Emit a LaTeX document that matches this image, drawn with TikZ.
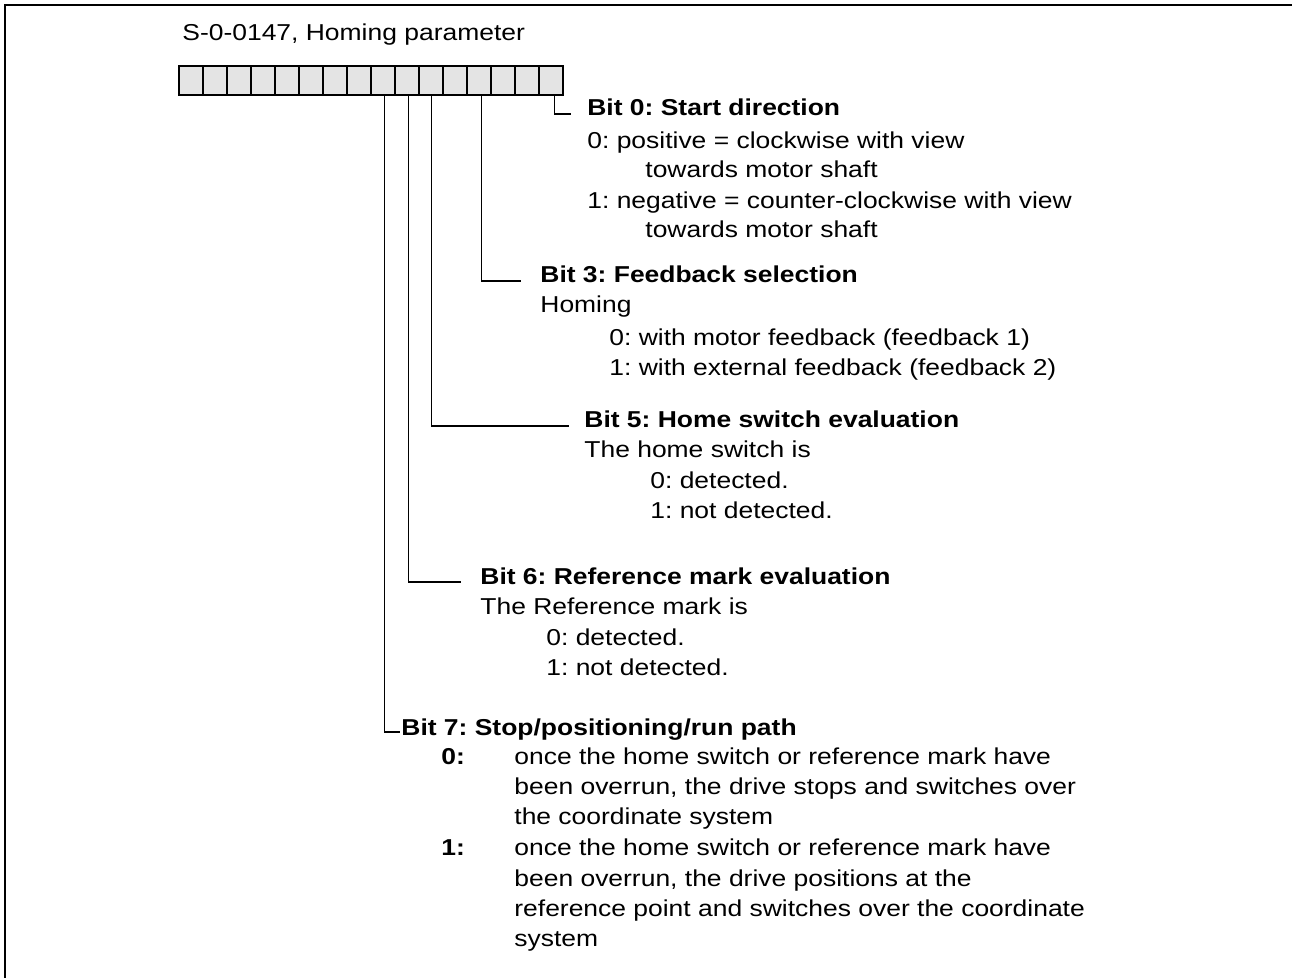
\documentclass[tikz,border=0pt]{standalone}
\usepackage{fontspec}
\setmainfont{Liberation Sans}[FakeStretch=1.15]
\frenchspacing
\begin{document}
\begin{tikzpicture}[x=0.5pt,y=-0.5pt,
  frame/.style={line width=1.35pt},
  bitbox/.style={draw,line width=0.8pt,fill=boxgray,minimum width=12pt,minimum height=14.5pt,inner sep=0pt,outer sep=0pt,anchor=north west},
  lead/.style={line width=0.75pt},
  txt/.style={anchor=base west,inner sep=0pt,font=\fontsize{11.5}{15}\selectfont},
  hd/.style={txt,font=\fontsize{11.5}{15}\selectfont\bfseries}]
\definecolor{boxgray}{HTML}{E4E4E4}
\useasboundingbox (0,0) rectangle (1292,978);
% open frame: top and left edges only
\draw[frame] (1292,5) -- (5,5) -- (5,978);

% title
\node[txt] (title) at (182,41) {S-0-0147, Homing parameter};

% sixteen bit cells, bit 15 on the left, bit 0 on the right
\foreach \i in {0,...,15}{
  \pgfmathtruncatemacro{\b}{15-\i}
  \node[bitbox] (b\b) at ({179+24*\i},66) {};
}

% leader lines
\coordinate (e0) at (571,114);
\coordinate (e3) at (521,281);
\coordinate (e5) at (569,426);
\coordinate (e6) at (461,582);
\coordinate (e7) at (400,732);
\draw[lead] ([xshift=1.75pt]b0.south) |- (e0);
\draw[lead] ([xshift=1.25pt]b3.south) |- (e3);
\draw[lead] ([xshift=0.35pt]b5.south) |- (e5);
\draw[lead] ([xshift=0.75pt]b6.south) |- (e6);
\draw[lead] ([xshift=0.75pt]b7.south) |- (e7);

% bit 0
\node[hd]  (t0)  at (587,116) {Bit 0: Start direction};
\node[txt] (t0a) at (587,149) {0: positive = clockwise with view};
\node[txt] (t0b) at (645,178) {towards motor shaft};
\node[txt] (t0c) at (587,209) {1: negative = counter-clockwise with view};
\node[txt] (t0d) at (645,238) {towards motor shaft};

% bit 3
\node[hd]  (t3)  at (540,283) {Bit 3: Feedback selection};
\node[txt] (t3a) at (540,313) {Homing};
\node[txt] (t3b) at (609,346) {0: with motor feedback (feedback 1)};
\node[txt] (t3c) at (609,376) {1: with external feedback (feedback 2)};

% bit 5
\node[hd]  (t5)  at (584,428) {Bit 5: Home switch evaluation};
\node[txt] (t5a) at (584,458) {The home switch is};
\node[txt] (t5b) at (650,489) {0: detected.};
\node[txt] (t5c) at (650,519) {1: not detected.};

% bit 6
\node[hd]  (t6)  at (480,585) {Bit 6: Reference mark evaluation};
\node[txt] (t6a) at (480,615) {The Reference mark is};
\node[txt] (t6b) at (546,646) {0: detected.};
\node[txt] (t6c) at (546,676) {1: not detected.};

% bit 7
\node[hd]  (t7)  at (401,735) {Bit 7: Stop/positioning/run path};
\node[hd]  (t7k0) at (441,765) {0:};
\node[txt] (t7a) at (514,765) {once the home switch or reference mark have};
\node[txt] (t7b) at (514,795) {been overrun, the drive stops and switches over};
\node[txt] (t7c) at (514,825) {the coordinate system};
\node[hd]  (t7k1) at (441,856) {1:};
\node[txt] (t7d) at (514,856) {once the home switch or reference mark have};
\node[txt] (t7e) at (514,886) {been overrun, the drive positions at the};
\node[txt] (t7f) at (514,916) {reference point and switches over the coordinate};
\node[txt] (t7g) at (514,946) {system};
\end{tikzpicture}
\end{document}
